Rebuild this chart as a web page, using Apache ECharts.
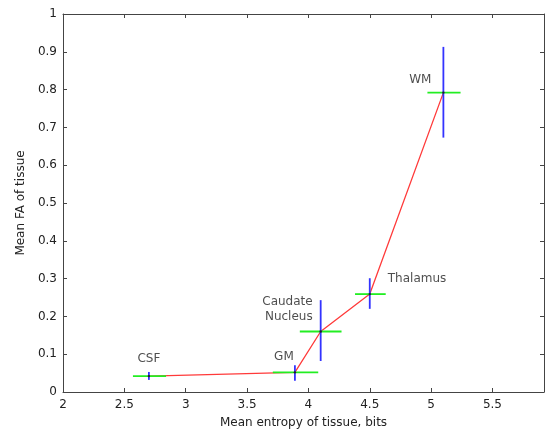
<!DOCTYPE html>
<html><head><meta charset="utf-8">
<script src="https://cdn.jsdelivr.net/npm/echarts@6/dist/echarts.min.js"></script>
<style>html,body{margin:0;padding:0;background:#fff}#c{width:553px;height:432px}</style>
</head><body><div id="c"></div>
<script>
const names = ['CSF', 'GM', 'Caudate\nNucleus', 'Thalamus', 'WM'];
const xMean = [2.70, 3.89, 4.10, 4.50, 5.10];
const yMean = [0.042, 0.052, 0.160, 0.259, 0.792];
const xLow  = [2.57, 3.71, 3.93, 4.38, 4.97];
const xHigh = [2.84, 4.08, 4.27, 4.63, 5.24];
const yLow  = [0.032, 0.030, 0.082, 0.220, 0.673];
const yHigh = [0.053, 0.071, 0.243, 0.301, 0.913];
const xTicks = [2, 2.5, 3, 3.5, 4, 4.5, 5, 5.5];

const FONT = 'DejaVu Sans';
const labelCfg = [
  {position: 'top', distance: 10, align: 'center'},
  {position: 'top', distance: 8, offset: [-11, 0]},
  {position: 'left', distance: 8, offset: [0, -22], align: 'right'},
  {position: 'right', distance: 18, offset: [0, -15]},
  {position: 'left', distance: 12, offset: [0, -13]}
];

const pts = xMean.map((x, i) => [x, yMean[i]]);
const bars = xMean.map((x, i) => [x, yMean[i], xLow[i], xHigh[i], yLow[i], yHigh[i]]);

const chart = echarts.init(document.getElementById('c'));
const axisCommon = {
  axisLine: {show: true, onZero: false, lineStyle: {color: '#444', width: 1}},
  axisTick: {show: true, inside: true, length: 4, lineStyle: {color: '#444'}},
  splitLine: {show: false}
};
chart.setOption({
  animation: false,
  grid: {left: 63, top: 14, right: 9, bottom: 40, containLabel: false, outerBoundsMode: 'none'},
  xAxis: [
    Object.assign({type: 'value', min: 2, max: 5.92, interval: 0.5, position: 'bottom',
      name: 'Mean entropy of tissue, bits', nameLocation: 'middle', nameGap: 25,
      nameTextStyle: {fontFamily: FONT, fontSize: 12, color: '#222'},
      axisLabel: {fontFamily: FONT, fontSize: 12, color: '#222', margin: 7, showMaxLabel: false,
        formatter: v => xTicks.indexOf(v) >= 0 ? String(v) : ''}}, axisCommon),
    Object.assign({type: 'value', min: 2, max: 5.92, interval: 0.5, position: 'top',
      axisLabel: {show: false}}, axisCommon)
  ],
  yAxis: [
    Object.assign({type: 'value', min: 0, max: 1, interval: 0.1, position: 'left',
      name: 'Mean FA of tissue', nameLocation: 'middle', nameGap: 35,
      nameTextStyle: {fontFamily: FONT, fontSize: 12, color: '#222'},
      axisLabel: {fontFamily: FONT, fontSize: 12, color: '#222', margin: 6,
        formatter: v => String(Math.round(v * 10) / 10)}}, axisCommon),
    Object.assign({type: 'value', min: 0, max: 1, interval: 0.1, position: 'right',
      axisLabel: {show: false}}, axisCommon)
  ],
  series: [
    {
      type: 'line', data: pts, symbol: 'none',
      lineStyle: {color: '#ff3a3a', width: 1.3}, z: 2
    },
    {
      type: 'custom', data: bars, z: 3,
      renderItem: function (params, api) {
        const c = api.coord([api.value(0), api.value(1)]);
        const l = api.coord([api.value(2), api.value(1)]);
        const r = api.coord([api.value(3), api.value(1)]);
        const b = api.coord([api.value(0), api.value(4)]);
        const t = api.coord([api.value(0), api.value(5)]);
        return {type: 'group', children: [
          {type: 'line', shape: {x1: l[0], y1: l[1], x2: r[0], y2: r[1]},
            style: {stroke: '#22ee22', lineWidth: 1.8}},
          {type: 'line', shape: {x1: b[0], y1: b[1], x2: t[0], y2: t[1]},
            style: {stroke: '#3333ff', lineWidth: 1.8}},
          {type: 'circle', shape: {cx: c[0], cy: c[1], r: 1.2},
            style: {fill: '#222'}}
        ]};
      }
    },
    {
      type: 'scatter', symbolSize: 0, z: 4,
      data: pts.map((p, i) => ({value: p, name: names[i],
        label: Object.assign({show: true, formatter: '{b}', fontFamily: FONT, fontSize: 12,
          color: '#222', lineHeight: 15}, labelCfg[i])}))
    }
  ]
});
</script>
</body></html>
